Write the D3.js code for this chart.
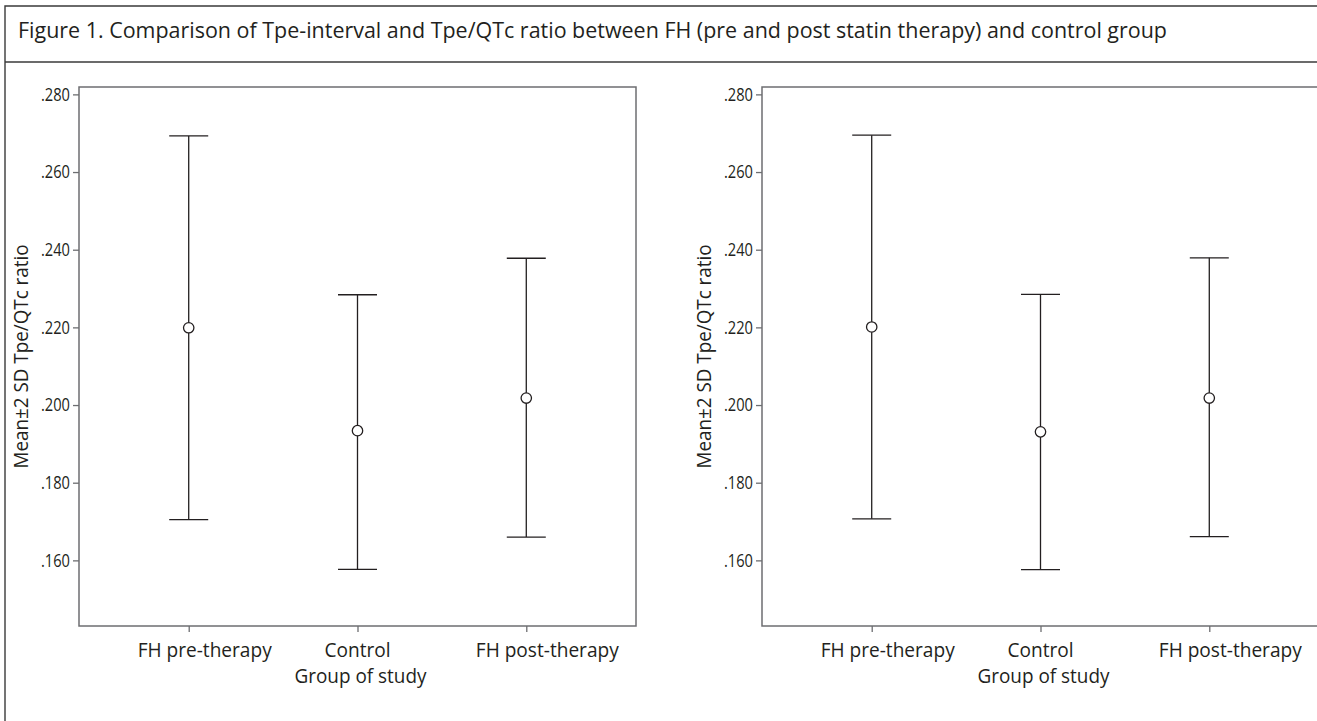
<!DOCTYPE html>
<html lang="en">
<head>
    <meta charset="UTF-8">
    <title>Figure 1</title>
    <script src="https://cdn.jsdelivr.net/npm/d3@7"></script>
    <style>
        body { margin: 0; background: #fff; }
        svg { display: block; font-family: "Open Sans", sans-serif; }
    </style>
</head>
<body>
<script>
    const titleText = "Figure 1. Comparison of Tpe-interval and Tpe/QTc ratio between FH (pre and post statin therapy) and control group";
    const groups = ["FH pre-therapy", "Control", "FH post-therapy"];
    const yTicks = [0.16, 0.18, 0.20, 0.22, 0.24, 0.26, 0.28];
    const yLabel = "Mean\u00b12 SD Tpe/QTc ratio";
    const xLabel = "Group of study";

    // left panel
    const leftMean = [0.2199, 0.1934, 0.2018];
    const leftLow = [0.1705, 0.1577, 0.1660];
    const leftHigh = [0.2693, 0.2284, 0.2378];

    // right panel
    const rightMean = [0.2201, 0.1931, 0.2018];
    const rightLow = [0.1707, 0.1576, 0.1661];
    const rightHigh = [0.2695, 0.2285, 0.2379];

    const width = 1317, height = 721;
    const boxW = 557, boxTop = 87, boxBottom = 626;

    const svg = d3.select('body').append('svg')
        .attr('width', width)
        .attr('height', height);

    // the original face is narrower than Open Sans, so squeeze to the measured width
    function squeeze(sel, w) {
        sel.attr('textLength', w).attr('lengthAdjust', 'spacingAndGlyphs');
    }

    // outer frame
    svg.append('path')
        .attr('d', `M${width},6H5V${height}`)
        .attr('fill', 'none')
        .attr('stroke', '#3a3a3a')
        .attr('stroke-width', 1.4);
    svg.append('line')
        .attr('x1', 5).attr('x2', width)
        .attr('y1', 62).attr('y2', 62)
        .attr('stroke', '#3a3a3a')
        .attr('stroke-width', 1.4);

    svg.append('text')
        .attr('x', 18).attr('y', 38)
        .attr('font-size', 21.5)
        .attr('fill', '#231f20')
        .text(titleText)
        .call(squeeze, 1149);

    const y = d3.scaleLinear().domain([0.1431, 0.2819]).range([boxBottom, boxTop]);
    const x = d3.scalePoint().domain(groups).range([0, boxW]).padding(0.65);
    const labelShift = [16, 0, 21];
    const labelW = [134, 66, 143];

    function panel(left, means, lows, highs) {
        const g = svg.append('g').attr('transform', `translate(${left},0)`);

        g.append('rect')
            .attr('x', 0).attr('y', boxTop)
            .attr('width', boxW).attr('height', boxBottom - boxTop)
            .attr('fill', 'none')
            .attr('stroke', '#6d6e71')
            .attr('stroke-width', 1.5);

        const ya = g.append('g')
            .call(d3.axisLeft(y).tickValues(yTicks).tickSize(6).tickPadding(3)
                .tickFormat(d => d3.format('.3f')(d).replace(/^0/, '')));
        ya.attr('font-family', null).attr('font-size', null);
        ya.select('.domain').remove();
        ya.selectAll('line').attr('stroke', '#6d6e71').attr('stroke-width', 1.3);
        ya.selectAll('text')
            .attr('font-size', 18)
            .attr('fill', '#231f20')
            .call(squeeze, 29);

        const xa = g.append('g')
            .attr('transform', `translate(0,${boxBottom})`)
            .call(d3.axisBottom(x).tickSize(6).tickPadding(0).tickFormat(''));
        xa.select('.domain').remove();
        xa.selectAll('line').attr('stroke', '#6d6e71').attr('stroke-width', 1.3);

        g.selectAll('.cat')
            .data(groups)
            .enter().append('text')
            .attr('class', 'cat')
            .attr('x', (d, i) => x(d) + labelShift[i])
            .attr('y', 657)
            .attr('text-anchor', 'middle')
            .attr('font-size', 20)
            .attr('fill', '#231f20')
            .attr('textLength', (d, i) => labelW[i])
            .attr('lengthAdjust', 'spacingAndGlyphs')
            .text(d => d);

        g.append('text')
            .attr('x', x('Control') + 3)
            .attr('y', 683)
            .attr('text-anchor', 'middle')
            .attr('font-size', 20)
            .attr('fill', '#231f20')
            .text(xLabel)
            .call(squeeze, 132);

        g.append('text')
            .attr('transform', `translate(-51,${(boxTop + boxBottom) / 2}) rotate(-90)`)
            .attr('text-anchor', 'middle')
            .attr('font-size', 20)
            .attr('fill', '#231f20')
            .text(yLabel)
            .call(squeeze, 224);

        const bars = g.selectAll('.bar')
            .data(groups.map((d, i) => ({g: d, m: means[i], lo: lows[i], hi: highs[i]})))
            .enter().append('g')
            .attr('class', 'bar')
            .attr('stroke', '#231f20')
            .attr('stroke-width', 1.3)
            .attr('fill', 'none');

        bars.append('line')
            .attr('x1', d => x(d.g)).attr('x2', d => x(d.g))
            .attr('y1', d => y(d.hi)).attr('y2', d => y(d.lo));
        bars.append('line')
            .attr('x1', d => x(d.g) - 19.5).attr('x2', d => x(d.g) + 19.5)
            .attr('y1', d => y(d.hi)).attr('y2', d => y(d.hi));
        bars.append('line')
            .attr('x1', d => x(d.g) - 19.5).attr('x2', d => x(d.g) + 19.5)
            .attr('y1', d => y(d.lo)).attr('y2', d => y(d.lo));
        bars.append('circle')
            .attr('cx', d => x(d.g)).attr('cy', d => y(d.m))
            .attr('r', 5.2)
            .attr('fill', '#fff');
    }

    panel(79, leftMean, leftLow, leftHigh);
    panel(762, rightMean, rightLow, rightHigh);
</script>
</body>
</html>
